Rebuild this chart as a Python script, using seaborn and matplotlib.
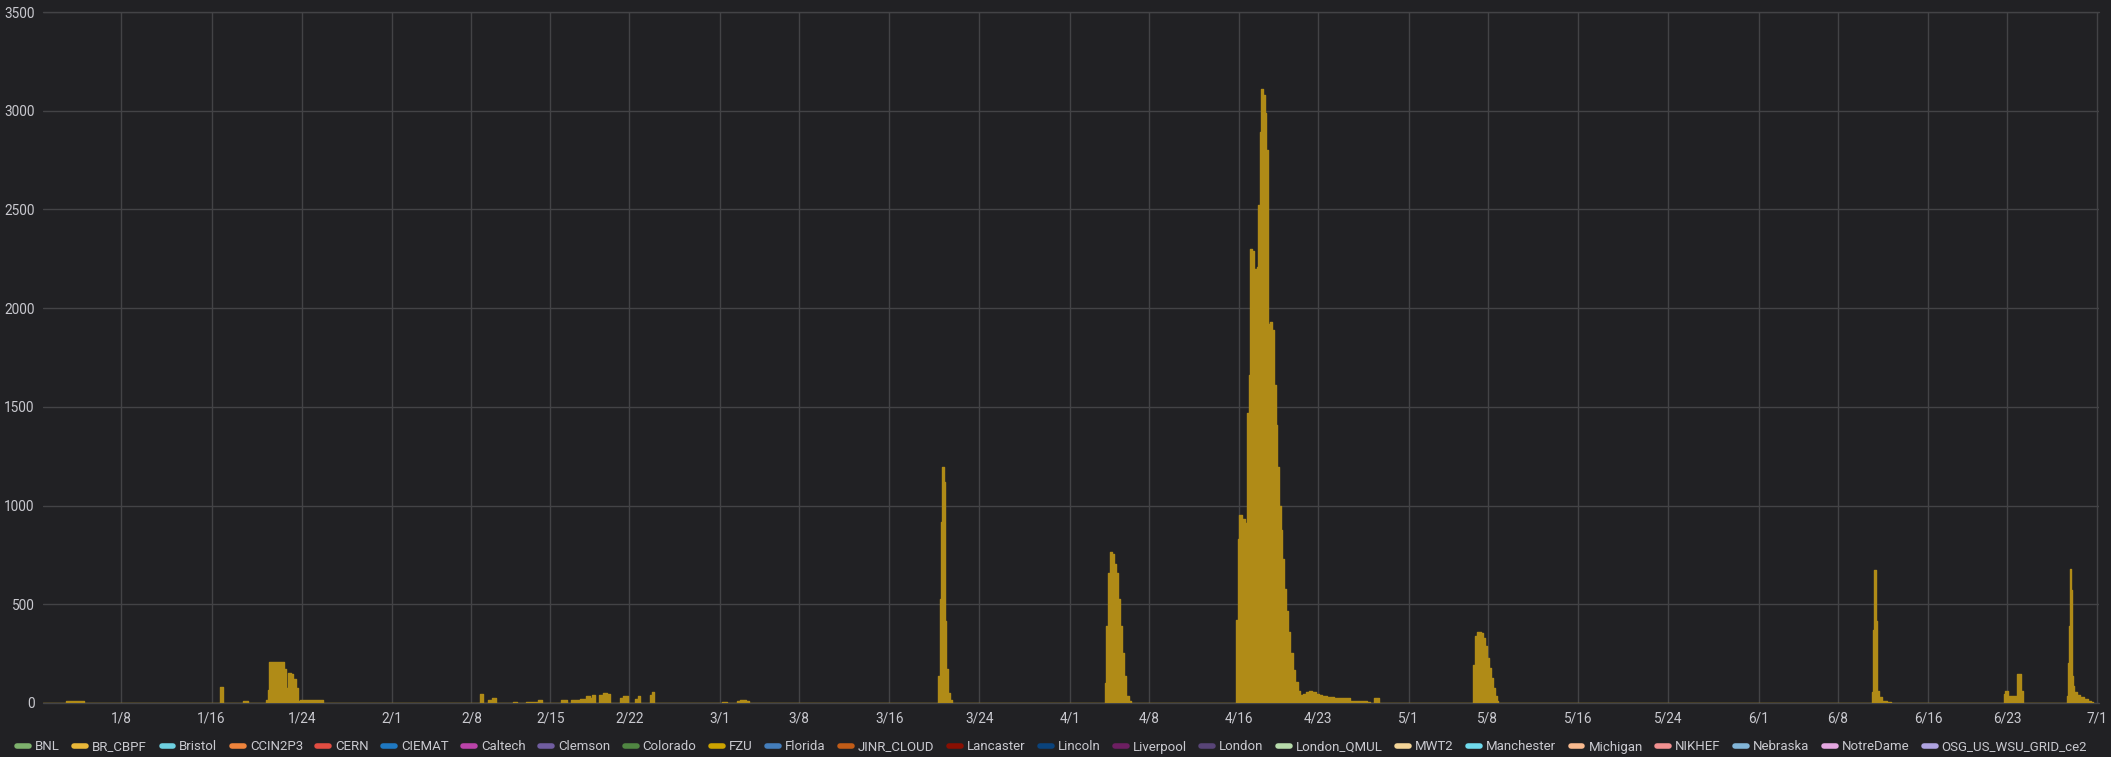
import numpy as np
import pandas as pd
import matplotlib
matplotlib.use("Agg")
import matplotlib.pyplot as plt
from matplotlib.lines import Line2D
import seaborn as sns

# ---------------- data ----------------
start = "2024-01-01"
# time of each step (days after 2024-01-01 00:00) and running-job count (step-post)
days_jan = [2.15, 3.74, 15.78, 16.04, 17.81, 18.26,
            19.85, 19.96, 20.11, 21.41, 21.63, 21.78, 22.00, 22.22, 22.44, 22.67, 22.81, 24.85]
vals_jan = [8, 0, 82, 0, 8, 0,
            17, 68, 210, 172, 77, 154, 145, 120, 77, 12, 14, 0]

days_feb = [38.74, 39.04, 39.48, 39.85, 40.22, 41.70, 42.07, 42.81, 43.93, 44.30,
            45.96, 46.44, 46.81, 47.63, 48.19, 48.48, 48.67, 48.93,
            49.30, 49.67, 50.04, 50.30, 51.15, 51.41, 51.89,
            52.52, 52.74, 52.93, 53.85, 54.00, 54.19,
            60.20, 60.60, 61.50, 61.75, 62.30, 62.55]
vals_feb = [45, 0, 17, 26, 0, 5, 0, 5, 14, 0,
            17, 0, 17, 20, 34, 26, 43, 0,
            43, 50, 45, 0, 26, 34, 0,
            20, 34, 0, 40, 58, 0,
            3, 0, 8, 17, 10, 0]

days_mar = [79.37, 79.46, 79.58, 79.70, 79.82, 79.94, 80.05, 80.17, 80.41, 80.56,
            94.14, 94.23, 94.34, 94.52, 94.70, 94.87, 95.05, 95.23, 95.40, 95.58,
            95.76, 95.97, 96.20, 96.41]
vals_mar = [136, 525, 915, 1195, 1120, 415, 170, 50, 17, 0,
            102, 390, 660, 765, 755, 705, 660, 525, 390, 255,
            135, 35, 8, 0]

days_apr = [105.74, 105.85, 106.00, 106.23, 106.49, 106.67, 106.84, 106.96, 107.16, 107.34,
            107.54, 107.68, 107.83, 107.97, 108.12, 108.24, 108.41, 108.56, 108.76, 108.93,
            109.05, 109.22, 109.37, 109.51, 109.66, 109.80, 110.01, 110.15, 110.36, 110.53,
            110.73, 110.97, 111.17, 111.37, 111.61, 111.90, 112.19, 112.48, 112.77, 113.06,
            113.35, 113.78, 114.36, 115.84, 117.30, 117.60, 117.90, 118.35]
vals_apr = [422, 830, 950, 930, 910, 1470, 1660, 2300, 2290, 2200,
            2210, 2520, 2890, 3110, 3080, 2990, 2800, 1920, 1930, 1890,
            1610, 1410, 1195, 1000, 875, 730, 575, 465, 360, 255,
            165, 105, 62, 42, 45, 58, 60, 56, 48, 42,
            35, 28, 25, 10, 5, 0, 26, 0]

days_may = [126.71, 126.85, 127.06, 127.41, 127.59, 127.77, 127.94, 128.12, 128.30, 128.47,
            128.65, 128.83, 128.92]
vals_may = [195, 338, 358, 355, 330, 287, 228, 177, 127, 76,
            34, 8, 0]

days_jun = [162.07, 162.16, 162.25, 162.37, 162.49, 162.63, 162.93, 163.37, 163.73,
            173.70, 173.85, 174.06, 174.89, 175.24, 175.39,
            179.32, 179.37, 179.46, 179.55, 179.67, 179.76, 179.85, 179.96, 180.20, 180.49,
            180.79, 181.14, 181.44, 181.61]
vals_jun = [54, 371, 676, 413, 62, 28, 12, 7, 0,
            45, 62, 33, 145, 62, 0,
            37, 204, 388, 680, 572, 137, 87, 54, 40, 28,
            20, 12, 7, 0]

sites = ["BNL", "BR_CBPF", "Bristol", "CCIN2P3", "CERN", "CIEMAT", "Caltech", "Clemson",
         "Colorado", "FZU", "Florida", "JINR_CLOUD", "Lancaster", "Lincoln", "Liverpool",
         "London", "London_QMUL", "MWT2", "Manchester", "Michigan", "NIKHEF", "Nebraska",
         "NotreDame", "OSG_US_WSU_GRID_ce2"]
site_colors = ["#7EB26D", "#EAB839", "#6ED0E0", "#EF843C", "#E24D42", "#1F78C1", "#BA43A9",
               "#705DA0", "#508642", "#CCA300", "#447EBC", "#C15C17", "#890F02", "#0A437C",
               "#6D1F62", "#584477", "#B7DBAB", "#F4D598", "#70DBED", "#F9BA8F", "#F29191",
               "#82B5D8", "#E5A8E2", "#AEA2E0"]

tick_dates = ["2024-01-08", "2024-01-16", "2024-01-24", "2024-02-01", "2024-02-08", "2024-02-15",
              "2024-02-22", "2024-03-01", "2024-03-08", "2024-03-16", "2024-03-24", "2024-04-01",
              "2024-04-08", "2024-04-16", "2024-04-23", "2024-05-01", "2024-05-08", "2024-05-16",
              "2024-05-24", "2024-06-01", "2024-06-08", "2024-06-16", "2024-06-23", "2024-07-01"]
tick_labels = ["1/8", "1/16", "1/24", "2/1", "2/8", "2/15", "2/22", "3/1", "3/8", "3/16",
               "3/24", "4/1", "4/8", "4/16", "4/23", "5/1", "5/8", "5/16", "5/24", "6/1",
               "6/8", "6/16", "6/23", "7/1"]
y_ticks = [0, 500, 1000, 1500, 2000, 2500, 3000, 3500]

# ---------------- style ----------------
BG = "#212124"
GRID = "#434346"
TXT = "#c9c9cf"
FILL = "#b08b17"

sns.set_theme(style="dark", rc={
    "figure.facecolor": BG, "axes.facecolor": BG, "savefig.facecolor": BG,
    "axes.edgecolor": BG, "text.color": TXT, "xtick.color": TXT, "ytick.color": TXT,
})
plt.rcParams["font.family"] = ["Roboto", "DejaVu Sans"]

all_days = days_jan + days_feb + days_mar + days_apr + days_may + days_jun
all_vals = vals_jan + vals_feb + vals_mar + vals_apr + vals_may + vals_jun
df = pd.DataFrame({
    "time": pd.Timestamp(start) + pd.to_timedelta(np.array(all_days), unit="D"),
    "jobs": all_vals,
})
df = pd.concat([pd.DataFrame({"time": [pd.Timestamp(start)], "jobs": [0]}), df],
               ignore_index=True)

fig = plt.figure(figsize=(21.11, 7.57), dpi=100)
ax = fig.add_axes([43 / 2111, (757 - 703) / 757, (2099 - 43) / 2111, (703 - 12) / 757])
ax.set_axisbelow(True)

ax.fill_between(df["time"], df["jobs"], 0, step="post", facecolor=FILL, lw=0,
                antialiased=False, zorder=2)
sns.lineplot(data=df, x="time", y="jobs", drawstyle="steps-post", color=FILL, lw=1.0,
             ax=ax, zorder=3, estimator=None)

ax.set_xlim(pd.Timestamp("2024-01-01 01:40"), pd.Timestamp("2024-07-01 03:20"))
ax.set_ylim(0, 3500)
ax.set_xticks(pd.to_datetime(tick_dates))
ax.set_xticklabels(tick_labels)
ax.set_yticks(y_ticks)
ax.set_yticklabels([str(v) for v in y_ticks])
ax.tick_params(axis="both", length=0, labelsize=9.8, colors=TXT)
ax.tick_params(axis="x", pad=6)
ax.tick_params(axis="y", pad=6)
ax.grid(True, color=GRID, lw=1)
ax.axhline(0, color=GRID, lw=1, clip_on=False, zorder=1)
ax.axhline(3500, color=GRID, lw=1, clip_on=False, zorder=1)
ax.set_xlabel("")
ax.set_ylabel("")
for s in ax.spines.values():
    s.set_visible(False)

handles = [Line2D([0], [0], color=c, lw=4, solid_capstyle="round") for c in site_colors]
fig.legend(handles, sites, loc="center left", bbox_to_anchor=(12 / 2111, 10 / 757),
           ncol=len(sites), frameon=False, fontsize=9.5, handlelength=0.9,
           handletextpad=0.45, columnspacing=1.1, labelcolor=TXT, borderaxespad=0)

fig.savefig("out.png", dpi=100, facecolor=BG)
